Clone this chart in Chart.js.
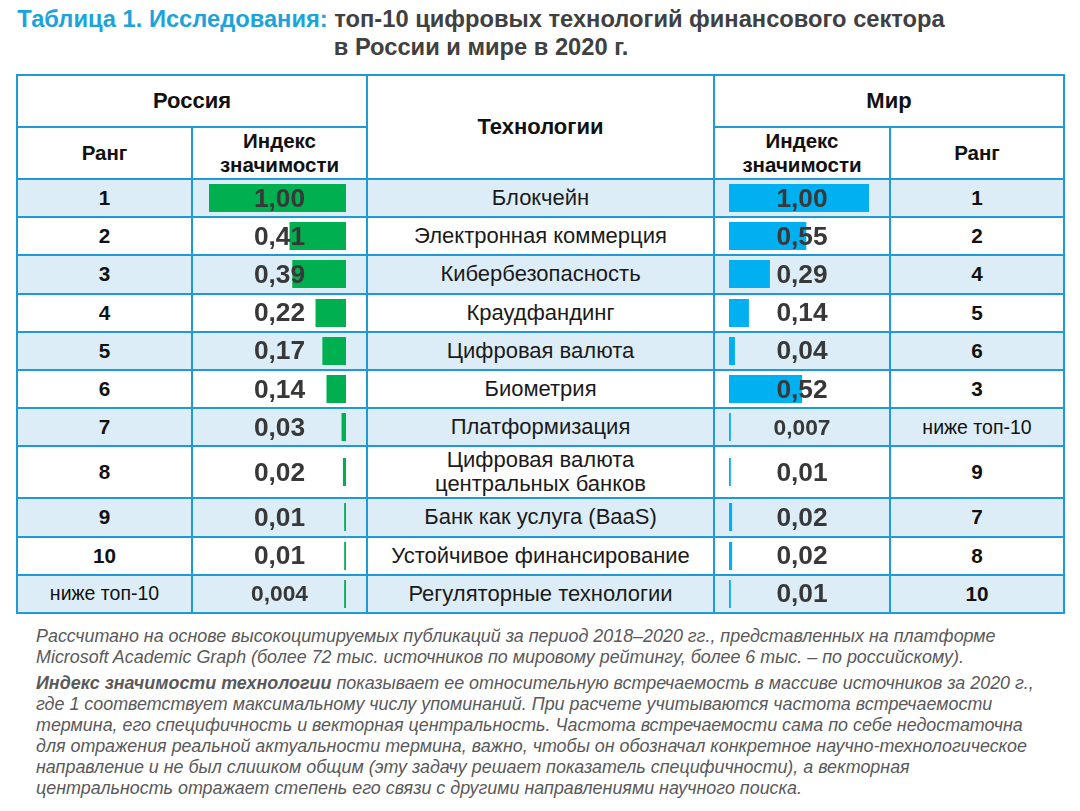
<!DOCTYPE html>
<html>
<head>
<meta charset="utf-8">
<script src="https://cdn.jsdelivr.net/npm/chart.js@4.4.0/dist/chart.umd.min.js"></script>
<style>
  body { margin:0; width:1080px; height:811px; background:#fff; font-family:"Liberation Sans", Arial, sans-serif; position:relative; overflow:hidden; }
  #title { position:absolute; left:0; top:5px; width:962px; text-align:center; font-weight:bold; font-size:23.7px; line-height:28px; color:#404040; white-space:nowrap; }
  #title .hl { color:#1ca3dc; }
  table { position:absolute; left:16px; top:74px; border-collapse:collapse; table-layout:fixed; }
  td { border:2px solid #1e9ad8; text-align:center; vertical-align:middle; padding:0; position:relative; color:#111; white-space:nowrap; }
  .hd { font-weight:bold; font-size:22px; }
  .sub { font-weight:bold; font-size:20.5px; line-height:24px; }
  .rank { font-weight:bold; font-size:20.7px; }
  .rank.low { font-weight:normal; font-size:19.5px; }
  .tech { font-size:22px; line-height:24px; color:#1a1a1a; }
  .val span { position:relative; z-index:2; font-weight:bold; font-size:26.3px; color:#383838; }
  .val.small span { font-size:22.8px; }
  tr.odd td { background:#ddedf7; }
  .val canvas { position:absolute; top:50%; transform:translateY(-50%); z-index:1; }
  #notes { position:absolute; left:36px; top:626px; width:1044px; font-style:italic; font-size:17.9px; line-height:21px; color:#595959; white-space:nowrap; }
  #notes p { margin:0 0 5px 0; }
</style>
</head>
<body>
<div id="title"><span class="hl">Таблица 1. Исследования:</span> топ-10 цифровых технологий финансового сектора<br>в России и мире в 2020 г.</div>
<table id="tbl">
  <colgroup><col style="width:175px"><col style="width:175px"><col style="width:347px"><col style="width:176px"><col style="width:174px"></colgroup>
  <tr style="height:52px"><td colspan="2" class="hd">Россия</td><td rowspan="2" class="hd">Технологии</td><td colspan="2" class="hd">Мир</td></tr>
  <tr style="height:52px"><td class="sub">Ранг</td><td class="sub">Индекс<br>значимости</td><td class="sub">Индекс<br>значимости</td><td class="sub">Ранг</td></tr>
</table>
<div id="notes">
  <p>Рассчитано на основе высокоцитируемых публикаций за период 2018–2020 гг., представленных на платформе<br>Microsoft Academic Graph (более 72 тыс. источников по мировому рейтингу, более 6 тыс. – по российскому).</p>
  <p><b>Индекс значимости технологии</b> показывает ее относительную встречаемость в массиве источников за 2020 г.,<br>где 1 соответствует максимальному числу упоминаний. При расчете учитываются частота встречаемости<br>термина, его специфичность и векторная центральность. Частота встречаемости сама по себе недостаточна<br>для отражения реальной актуальности термина, важно, чтобы он обозначал конкретное научно-технологическое<br>направление и не был слишком общим (эту задачу решает показатель специфичности), а векторная<br>центральность отражает степень его связи с другими направлениями научного поиска.</p>
</div>
<script>
// table data
const ranksRu = ["1","2","3","4","5","6","7","8","9","10","ниже топ-10"];
const indexRu = [1.00, 0.41, 0.39, 0.22, 0.17, 0.14, 0.03, 0.02, 0.01, 0.01, 0.004];
const technologies = ["Блокчейн","Электронная коммерция","Кибербезопасность","Краудфандинг","Цифровая валюта","Биометрия","Платформизация","Цифровая валюта<br>центральных банков","Банк как услуга (BaaS)","Устойчивое финансирование","Регуляторные технологии"];
const indexWorld = [1.00, 0.55, 0.29, 0.14, 0.04, 0.52, 0.007, 0.01, 0.02, 0.02, 0.01];
const ranksWorld = ["1","2","4","5","6","3","ниже топ-10","9","7","8","10"];

const GREEN = "#00b050", BLUE = "#00b0f0";

function fmt(v){ return (v > 0 && v < 0.01 ? v.toFixed(3) : v.toFixed(2)).replace(".", ","); }

function cellBar(td, v, color, ru){
  const c = document.createElement("canvas");
  c.width = ru ? 137 : 140; c.height = 28;
  if(ru) c.style.right = "20px"; else c.style.left = "14px";
  td.appendChild(c);
  new Chart(c, {
    type: "bar",
    data: { labels: [""], datasets: [{ data: [v], backgroundColor: color, barPercentage: 1, categoryPercentage: 1, minBarLength: 1.5 }] },
    options: {
      indexAxis: "y", responsive: false, animation: false,
      layout: { padding: 0 },
      plugins: { legend: { display: false }, tooltip: { enabled: false } },
      scales: { x: { display: false, min: 0, max: 1, reverse: ru }, y: { display: false } }
    }
  });
}

const tbl = document.getElementById("tbl");
technologies.forEach((t, i) => {
  const tr = document.createElement("tr");
  if(i % 2 === 0) tr.className = "odd";
  tr.style.height = (t.includes("<br>") ? 52 : 38.2) + "px";
  const lowRu = ranksRu[i].length > 2, lowW = ranksWorld[i].length > 2;
  tr.innerHTML =
    `<td class="rank${lowRu?' low':''}">${ranksRu[i]}</td>` +
    `<td class="val${indexRu[i]<0.01?' small':''}"><span>${fmt(indexRu[i])}</span></td>` +
    `<td class="tech">${t}</td>` +
    `<td class="val${indexWorld[i]<0.01?' small':''}"><span>${fmt(indexWorld[i])}</span></td>` +
    `<td class="rank${lowW?' low':''}">${ranksWorld[i]}</td>`;
  tbl.appendChild(tr);
  cellBar(tr.children[1], indexRu[i], GREEN, true);
  cellBar(tr.children[3], indexWorld[i], BLUE, false);
});
</script>
</body>
</html>
